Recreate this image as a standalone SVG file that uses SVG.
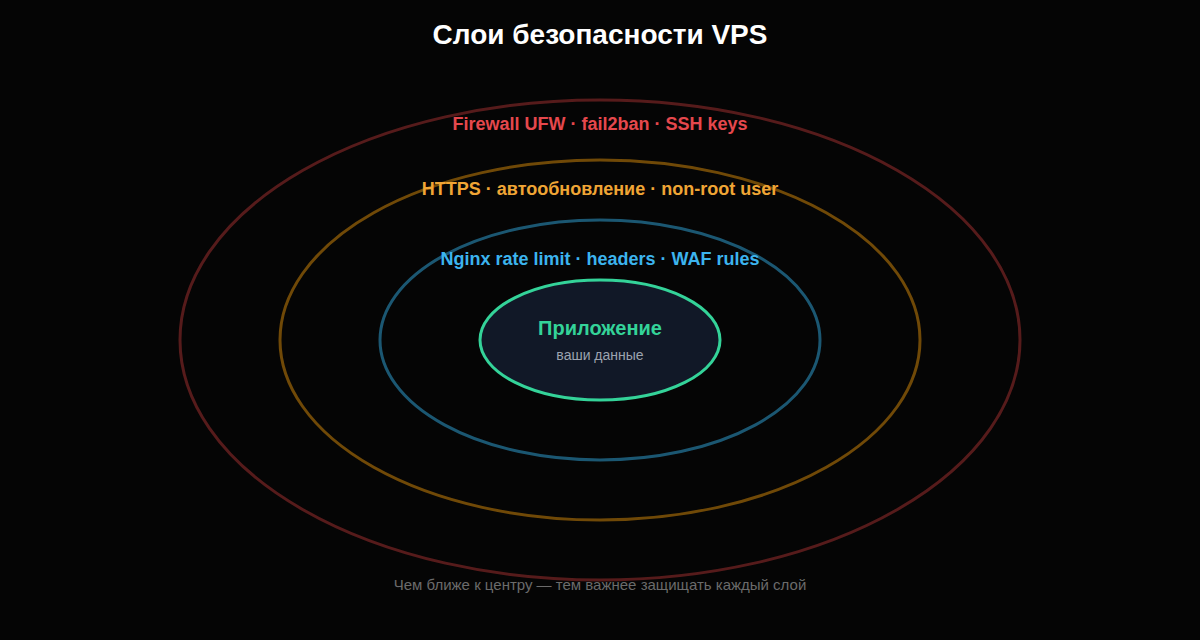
<svg xmlns="http://www.w3.org/2000/svg" width="1200" height="640" viewBox="0 0 1200 640">
<style>
text{font-family:"Liberation Sans",Arial,sans-serif;text-anchor:middle}
.ring{fill:none;stroke-width:3}
.lbl{font-size:18px;font-weight:bold}
</style>
<rect width="1200" height="640" fill="#050505"/>
<text x="600" y="44" font-size="28" font-weight="bold" fill="#ffffff">Слои безопасности VPS</text>
<g id="layer-firewall">
<ellipse class="ring" cx="600" cy="340" rx="420" ry="240" stroke="#ef4444" stroke-opacity="0.35"/>
<text class="lbl" x="600" y="130" fill="#e5484d">Firewall UFW · fail2ban · SSH keys</text>
</g>
<g id="layer-https">
<ellipse class="ring" cx="600" cy="340" rx="320" ry="180" stroke="#f59e0b" stroke-opacity="0.45"/>
<text class="lbl" x="600" y="195" fill="#f0a535">HTTPS · автообновление · non-root user</text>
</g>
<g id="layer-nginx">
<ellipse class="ring" cx="600" cy="340" rx="220" ry="120" stroke="#38bdf8" stroke-opacity="0.45"/>
<text class="lbl" x="600" y="265" fill="#3cb4ee">Nginx rate limit · headers · WAF rules</text>
</g>
<g id="app">
<ellipse cx="600" cy="340" rx="120" ry="60" fill="#111827" stroke="#34d399" stroke-width="3"/>
<text x="600" y="335" font-size="20" font-weight="bold" fill="#34d399">Приложение</text>
<text x="600" y="360" font-size="14" fill="#9ca3af">ваши данные</text>
</g>
<text x="600" y="590" font-size="15" fill="#6b6b6b">Чем ближе к центру — тем важнее защищать каждый слой</text>
</svg>
